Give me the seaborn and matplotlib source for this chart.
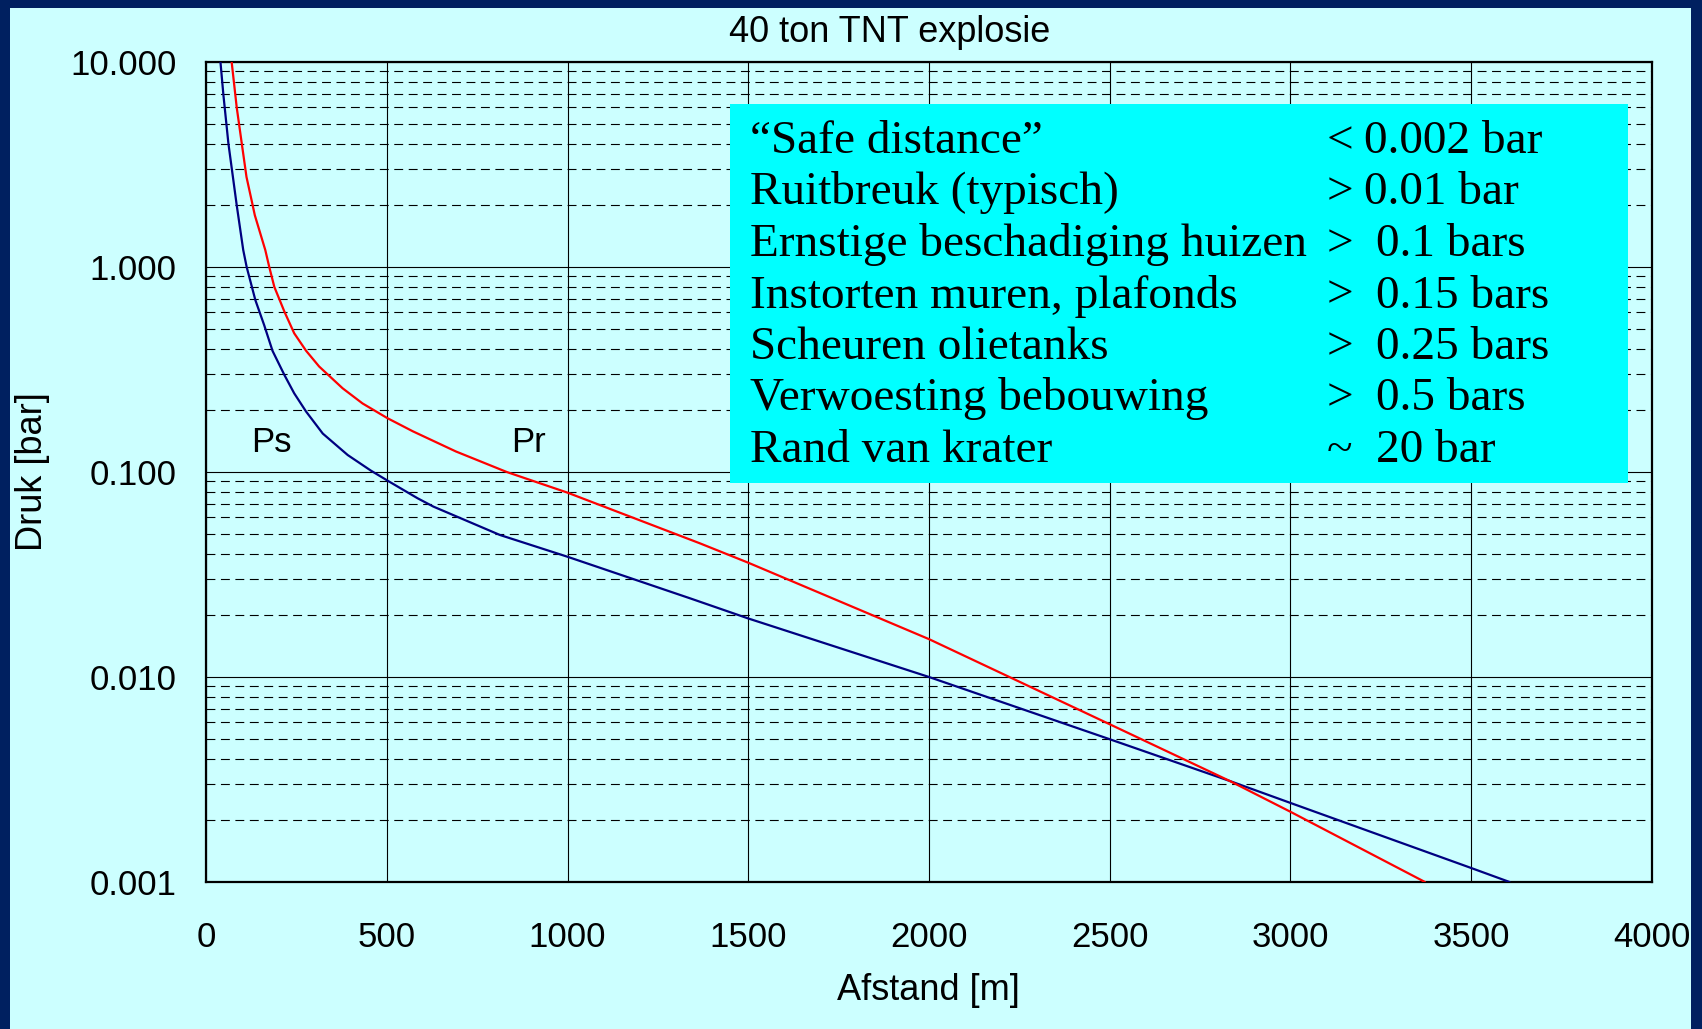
import matplotlib
matplotlib.use("Agg")
import pandas as pd
import matplotlib.pyplot as plt
import seaborn as sns
from matplotlib.ticker import FixedLocator, FixedFormatter, LogLocator, NullFormatter
from matplotlib.patches import Rectangle

ps_afstand = [40, 48, 62, 85, 103, 112.5, 136.5, 161, 184, 217, 244, 277,
              323, 392, 456, 502, 585, 629, 813, 1000, 1339, 1500, 2000,
              2500, 2832, 3000, 3500, 3606]
ps_druk = [10, 6.95, 4.0, 2.0, 1.21, 1.0, 0.69, 0.52, 0.39, 0.297, 0.242,
           0.197, 0.154, 0.121, 0.1016, 0.0908, 0.0745, 0.0678, 0.0493,
           0.0386, 0.0242, 0.0193, 0.0100, 0.00497, 0.00311, 0.00243,
           0.00117, 0.001]

pr_afstand = [71, 85, 99, 112, 126, 135, 164, 175, 189, 217, 244, 277, 313,
              378, 433, 502, 572, 691, 832, 1000, 1366, 1500, 2000, 2500,
              2832, 3000, 3372]
pr_druk = [10, 6.0, 4.0, 2.75, 2.12, 1.79, 1.21, 1.0, 0.80, 0.605, 0.475,
           0.39, 0.327, 0.256, 0.216, 0.183, 0.158, 0.126, 0.100, 0.0793,
           0.0449, 0.0361, 0.0153, 0.00588, 0.00311, 0.0022, 0.001]

x_ticks = [0, 500, 1000, 1500, 2000, 2500, 3000, 3500, 4000]
y_ticks = [0.001, 0.01, 0.1, 1, 10]
y_labels = ["0.001", "0.010", "0.100", "1.000", "10.000"]

tabel_tekst = ["\u201cSafe distance\u201d", "Ruitbreuk (typisch)",
               "Ernstige beschadiging huizen", "Instorten muren, plafonds",
               "Scheuren olietanks", "Verwoesting bebouwing", "Rand van krater"]
tabel_teken = ["<", ">", ">", ">", ">", ">", "~"]
tabel_waarde = ["0.002 bar", "0.01 bar", "0.1 bars", "0.15 bars",
                "0.25 bars", "0.5 bars", "20 bar"]

df = pd.concat([
    pd.DataFrame({"afstand": ps_afstand, "druk": ps_druk, "reeks": "Ps"}),
    pd.DataFrame({"afstand": pr_afstand, "druk": pr_druk, "reeks": "Pr"}),
])

sns.set_style("white")
plt.rcParams["font.family"] = ["Liberation Sans", "DejaVu Sans"]
plt.rcParams["text.color"] = "black"

W, H = 1702, 1029
fig = plt.figure(figsize=(W / 100, H / 100), dpi=100, facecolor="#002060")
# lichte achtergrond binnen de donkere rand
fig.patches.append(Rectangle((10 / W, 0), (1691 - 10) / W, (H - 8) / H,
                             transform=fig.transFigure, facecolor="#ccffff",
                             edgecolor="none", zorder=-5))

ax = fig.add_axes([206 / W, (H - 882) / H, (1652 - 206) / W, (882 - 62) / H])
ax.set_facecolor("#ccffff")

sns.lineplot(data=df, x="afstand", y="druk", hue="reeks",
             palette={"Ps": "#000080", "Pr": "#ff0000"}, estimator=None,
             sort=False, legend=False, linewidth=1.6, ax=ax, zorder=3)

ax.set_yscale("log")
ax.set_xlim(0, 4000)
ax.set_ylim(0.001, 10)
ax.xaxis.set_major_locator(FixedLocator(x_ticks))
ax.yaxis.set_major_locator(FixedLocator(y_ticks))
ax.yaxis.set_major_formatter(FixedFormatter(y_labels))
ax.yaxis.set_minor_locator(LogLocator(base=10, subs=range(2, 10)))
ax.yaxis.set_minor_formatter(NullFormatter())

ax.grid(True, which="major", color="black", linewidth=0.8, linestyle="-")
ax.grid(True, which="minor", axis="y", color="black", linewidth=0.8,
        linestyle=(0, (8, 5)))
ax.set_axisbelow(True)

for s in ax.spines.values():
    s.set_color("black")
    s.set_linewidth(1.6)

ax.tick_params(axis="both", which="major", direction="out", length=8,
               width=0.8, color="black", labelsize=25, labelcolor="black")
ax.tick_params(axis="x", pad=20)
ax.tick_params(axis="y", pad=13)
ax.tick_params(axis="y", which="minor", length=0)
ax.set_xlabel("")
ax.set_ylabel("")

fig.text(890 / W, 1 - 32 / H, "40 ton TNT explosie", ha="center",
         va="center", fontsize=26)
fig.text(928 / W, 1 - 991 / H, "Afstand [m]", ha="center", va="center",
         fontsize=26)
fig.text(33 / W, 1 - 472 / H, "Druk [bar]", ha="center", va="center",
         rotation=90, fontsize=26)

ax.text(182, 0.14, "Ps", ha="center", va="center", fontsize=25, zorder=4)
ax.text(891, 0.14, "Pr", ha="center", va="center", fontsize=25, zorder=4)

# tekstblok met schadecriteria
fig.patches.append(Rectangle((730 / W, (H - 483) / H), 898 / W, 379 / H,
                             transform=fig.transFigure, facecolor="#00ffff",
                             edgecolor="none", zorder=5))
serif = ["Liberation Serif", "DejaVu Serif"]
for i, (links, teken, waarde) in enumerate(zip(tabel_tekst, tabel_teken,
                                               tabel_waarde)):
    yb = 1 - (153 + 51.5 * i) / H
    fig.text(750 / W, yb, links, ha="left", va="baseline", fontsize=34,
             family=serif, zorder=6)
    fig.text(1327 / W, yb, teken, ha="left", va="baseline", fontsize=34,
             family=serif, zorder=6)
    xv = 1364 if i < 2 else 1376
    fig.text(xv / W, yb, waarde, ha="left", va="baseline", fontsize=34,
             family=serif, zorder=6)

fig.savefig("out.png", dpi=100, facecolor=fig.get_facecolor())
